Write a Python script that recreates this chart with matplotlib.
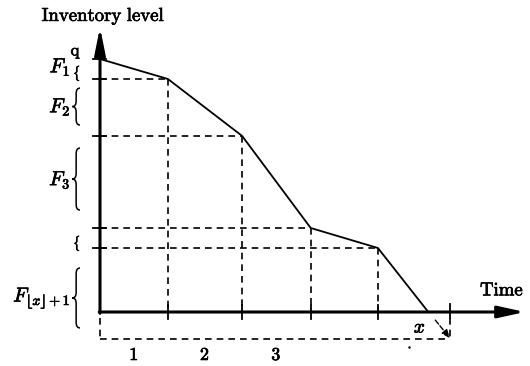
import matplotlib.pyplot as plt
import matplotlib.patheffects as pe
from matplotlib.path import Path
from matplotlib.patches import PathPatch

plt.rcParams['mathtext.fontset'] = 'cm'

# period boundaries and the inventory left at each of them
t_knots = [0, 0.97, 2.03, 3.01, 3.97, 4.69]
level = [100, 92.1, 69.6, 33.2, 25.3, 0]
t_ceil = 5.0
period_labels = ['1', '2', '3']

# F labels on the left: text, vertical centre, brace top, brace bottom
f_labels = [r'$F_1$', r'$F_2$', r'$F_3$', r'$F_{\lfloor x\rfloor+1}$']
f_text_y = [96.8, 81.0, 52.2, 5.5]
brace_top = [None, 88.5, 64.8, 17.4]
brace_bot = [None, 73.9, 40.3, -6.3]
small_brace_y = [94.5, 27.3]

fig = plt.figure(figsize=(5.30, 3.66), dpi=100)
ax = fig.add_axes([0, 0, 1, 1])
ax.set_xlim(-100 / 70, 430 / 70)
ax.set_ylim(-54 / 2.53, 312 / 2.53)
ax.axis('off')

# slightly heavier glyphs
heavy = [pe.withStroke(linewidth=0.5, foreground='k')]

dash = (0, (4, 3))
lw = 1.2

# guide lines from each knot to both axes
for t, v in zip(t_knots[1:5], level[1:5]):
    ax.plot([0, t], [v, v], color='k', lw=lw, linestyle=dash)
    ax.plot([t, t], [v, 0], color='k', lw=lw, linestyle=dash)
    ax.plot([t, t], [2.8, -2.8], color='k', lw=1.3)

# inventory curve
ax.plot(t_knots, level, color='k', lw=1.3, solid_joinstyle='miter')

# axes with arrows
ax.annotate('', xy=(425 / 70, 0), xytext=(-0.01, 0),
            arrowprops=dict(arrowstyle='-|>,head_length=1.0,head_width=0.22',
                            color='k', lw=2.2, mutation_scale=16, shrinkA=0, shrinkB=0))
ax.annotate('', xy=(0, 112.6), xytext=(0, -0.5),
            arrowprops=dict(arrowstyle='-|>,head_length=1.0,head_width=0.2',
                            color='k', lw=2.2, mutation_scale=16, shrinkA=0, shrinkB=0))

# ticks on the level axis
for v in level[:5]:
    ax.plot([-0.1, 0.086], [v, v], color='k', lw=1.3)

# tick at the ceiling of x
ax.plot([t_ceil, t_ceil], [3.0, -2.4], color='k', lw=1.3)

# dashed frame below the time axis
bottom = -10.7
ax.plot([0, 0], [-2.4, bottom], color='k', lw=lw, linestyle=dash)
ax.plot([0, t_ceil], [bottom, bottom], color='k', lw=lw, linestyle=dash)
ax.plot([t_ceil, t_ceil], [-2.4, bottom], color='k', lw=lw, linestyle=dash)
ax.annotate('', xy=(t_ceil, bottom + 0.3), xytext=(t_knots[-1] + 0.1, -3.2),
            arrowprops=dict(arrowstyle='-|>,head_length=0.5,head_width=0.2',
                            color='k', lw=1.0, linestyle='--', mutation_scale=10,
                            shrinkA=0, shrinkB=0))
ax.plot([4.41], [-13.8], 'k.', ms=1.5)

# period numbers
for i, lab in enumerate(period_labels):
    ax.text((t_knots[i] + t_knots[i + 1]) / 2, -17, r'$\mathbf{%s}$' % lab,
            ha='center', va='center', fontsize=13, path_effects=heavy)

ax.text(t_knots[-1] - 0.12, -6.0, r'$x$', ha='center', va='center', fontsize=14,
        path_effects=heavy)

ax.text(0.05, 117, r'$\mathrm{Inventory\ level}$', ha='center', va='center',
        fontsize=13.5, path_effects=heavy)
ax.text(380 / 70, 8.7, r'$\mathrm{Time}$', ha='left', va='center', fontsize=13.5,
        path_effects=heavy)
ax.text(-0.343, 103, r'$\mathrm{q}$', ha='center', va='center', fontsize=12,
        path_effects=heavy)


def brace(x_right, top, bot, width=0.11, r=2.2):
    x_tip = x_right - width
    xm = (x_right + x_tip) / 2
    mid = (top + bot) / 2
    verts = [(x_right, top), (xm, top), (xm, top - r), (xm, mid + r),
             (xm, mid), (x_tip, mid), (xm, mid), (xm, mid - r),
             (xm, bot + r), (xm, bot), (x_right, bot)]
    codes = [Path.MOVETO, Path.CURVE3, Path.CURVE3, Path.LINETO,
             Path.CURVE3, Path.CURVE3, Path.CURVE3, Path.CURVE3,
             Path.LINETO, Path.CURVE3, Path.CURVE3]
    ax.add_patch(PathPatch(Path(verts, codes), fill=False, lw=1.1, color='k'))


for lab, y, top, bot in zip(f_labels, f_text_y, brace_top, brace_bot):
    ax.text(-28 / 70 - 0.02, y, lab, ha='right', va='center', fontsize=14.5,
            path_effects=heavy)
    if top is not None:
        brace(-20 / 70, top, bot)

for y in small_brace_y:
    ax.text(-23 / 70, y, r'$\{$', ha='center', va='center', fontsize=9,
            path_effects=heavy)

fig.savefig('out.png', dpi=100)
